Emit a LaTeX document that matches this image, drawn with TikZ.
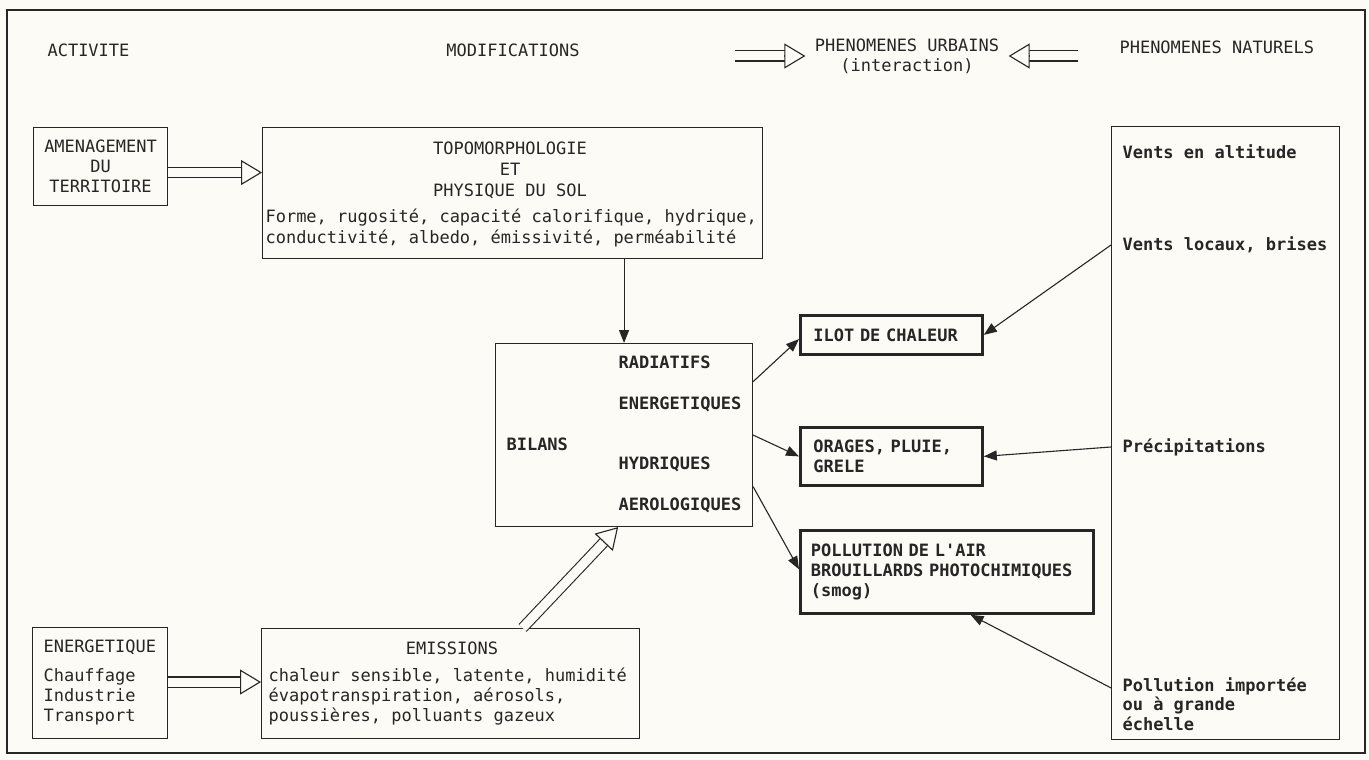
\documentclass[tikz,border=0pt]{standalone}
\usepackage{fontspec}
\newfontfamily\plotter{DejaVu Sans Mono}
\usetikzlibrary{arrows.meta,calc}
\definecolor{paper}{RGB}{252,251,246}
\definecolor{ink}{RGB}{38,38,38}
\newcommand{\fatarrow}[2]{%
  \draw[fat] (#1) -- (#2);
  \draw[fathead] ($(#2)!21pt!(#1)$) -- (#2);}
\begin{document}
\begin{tikzpicture}[x=1pt, y=-1pt, ink, line width=1.1pt,
  txt/.style={font=\plotter\fontsize{17}{20}\selectfont, inner sep=0pt, align=left},
  btxt/.style={txt, font=\plotter\fontsize{17}{20}\selectfont\bfseries},
  box/.style={draw, anchor=north west, inner sep=0pt},
  heavybox/.style={box, line width=2.8pt},
  arr/.style={-{Triangle[length=13pt, width=10pt]}},
  fat/.style={double=paper, double distance=9pt, shorten >=20pt},
  fathead/.style={-{Triangle[length=21pt, width=25pt, fill=paper]}}]
\fill[paper] (0,0) rectangle (1369,760);
\draw (7,10) rectangle (1365,753);

% column heads
\node[txt, anchor=west] (act) at (47,50) {ACTIVITE};
\node[txt] (mod) at (513,50) {MODIFICATIONS};
\node[txt, align=center, inner xsep=9pt] (urb) at (907,56) {PHENOMENES URBAINS\\(interaction)};
\node[txt, anchor=west] (nat-h) at (1119,47) {PHENOMENES NATURELS};
\coordinate (urb-l) at (735,56);
\coordinate (urb-r) at (1078,56);
\coordinate (urb-w) at (urb.west);
\coordinate (urb-e) at (urb.east);
\fatarrow{urb-l}{urb-w}
\fatarrow{urb-r}{urb-e}

% activities
\node[box, txt, align=center, minimum width=134pt, minimum height=78pt] (amen) at (33,127) {AMENAGEMENT\\DU\\TERRITOIRE};
\node[box, minimum width=135pt, minimum height=111pt] (enr) at (32,627) {};
\node[txt, anchor=west] (enr-h) at (43,647) {ENERGETIQUE};
\node[txt, anchor=west] (enr-b) at (43,697) {Chauffage\\Industrie\\Transport};

% modifications
\node[box, minimum width=500pt, minimum height=131pt] (topo) at (262,127) {};
\node[txt, align=center, font=\plotter\fontsize{17}{21}\selectfont] (topo-h) at (510,170) {TOPOMORPHOLOGIE\\ET\\PHYSIQUE DU SOL};
\node[txt, anchor=west, font=\plotter\fontsize{17}{21}\selectfont] (topo-b) at (265,228) {Forme, rugosité, capacité calorifique, hydrique,\\conductivité, albedo, émissivité, perméabilité};
\node[box, minimum width=378pt, minimum height=110pt] (emis) at (261,628) {};
\node[txt] (emis-h) at (452,648) {EMISSIONS};
\node[txt, anchor=west] (emis-b) at (268,697) {chaleur sensible, latente, humidité\\évapotranspiration, aérosols,\\poussières, polluants gazeux};
\coordinate (amen-r) at ([yshift=-6pt]amen.east);
\coordinate (topo-l) at (amen-r -| topo.west);
\fatarrow{amen-r}{topo-l}
\coordinate (enr-r) at ([yshift=1pt]enr.east);
\coordinate (emis-l) at (enr-r -| emis.west);
\fatarrow{enr-r}{emis-l}

% bilans
\node[box, minimum width=257pt, minimum height=183pt] (bil) at (495,343) {};
\node[btxt, anchor=west] (bil-t) at (506,444) {BILANS};
\foreach \name/\y in {RADIATIFS/362, ENERGETIQUES/404, HYDRIQUES/464, AEROLOGIQUES/505}
  \node[btxt, anchor=west] (bil-\y) at (618,\y) {\name};
\draw[arr] (topo.south -| bil.north) -- (bil.north);
\coordinate (emis-t) at ($(emis.north west)!0.69!(emis.north east)$);
\coordinate (bil-b) at ($(bil.south west)!0.477!(bil.south east)$);
\fatarrow{emis-t}{bil-b}

% urban phenomena
\node[heavybox, btxt, text width=156pt, minimum width=182pt, minimum height=39pt] (ilot) at (799,314) {ILOT DE CHALEUR};
\node[heavybox, btxt, text width=156pt, minimum width=182pt, minimum height=58pt] (ora) at (799,426) {ORAGES, PLUIE,\\GRELE};
\node[heavybox, btxt, text width=272pt, minimum width=293pt, minimum height=83pt] (pol) at (799,529) {POLLUTION DE L'AIR\\BROUILLARDS PHOTOCHIMIQUES\\(smog)};
\draw[arr] ($(bil.north east)!0.21!(bil.south east)$) -- ($(ilot.north west)!0.6!(ilot.south west)$);
\draw[arr] ($(bil.north east)!0.5!(bil.south east)$) -- (ora.west);
\draw[arr] ($(bil.north east)!0.78!(bil.south east)$) -- ($(pol.north west)!0.47!(pol.south west)$);

% natural phenomena
\node[box, minimum width=228pt, minimum height=613pt] (nat) at (1111,126) {};
\node[btxt, anchor=west] (v-alt) at (1122,152) {Vents en altitude};
\node[btxt, anchor=west] (v-loc) at (1122,245) {Vents locaux, brises};
\node[btxt, anchor=west] (prec) at (1122,447) {Précipitations};
\node[btxt, anchor=west, font=\plotter\fontsize{17}{19.5}\selectfont\bfseries] (p-imp) at (1122,704) {Pollution importée\\ou à grande\\échelle};
\coordinate (p-src) at ($(nat.west |- p-imp.north)+(0,11)$);
\coordinate (pol-in) at ($(pol.south west)!0.58!(pol.south east)$);
\draw[arr] (nat.west |- v-loc.west) -- (ilot.east);
\draw[arr] (nat.west |- prec.west) -- (ora.east);
\draw[arr] (p-src) -- (pol-in);
\end{tikzpicture}
\end{document}
